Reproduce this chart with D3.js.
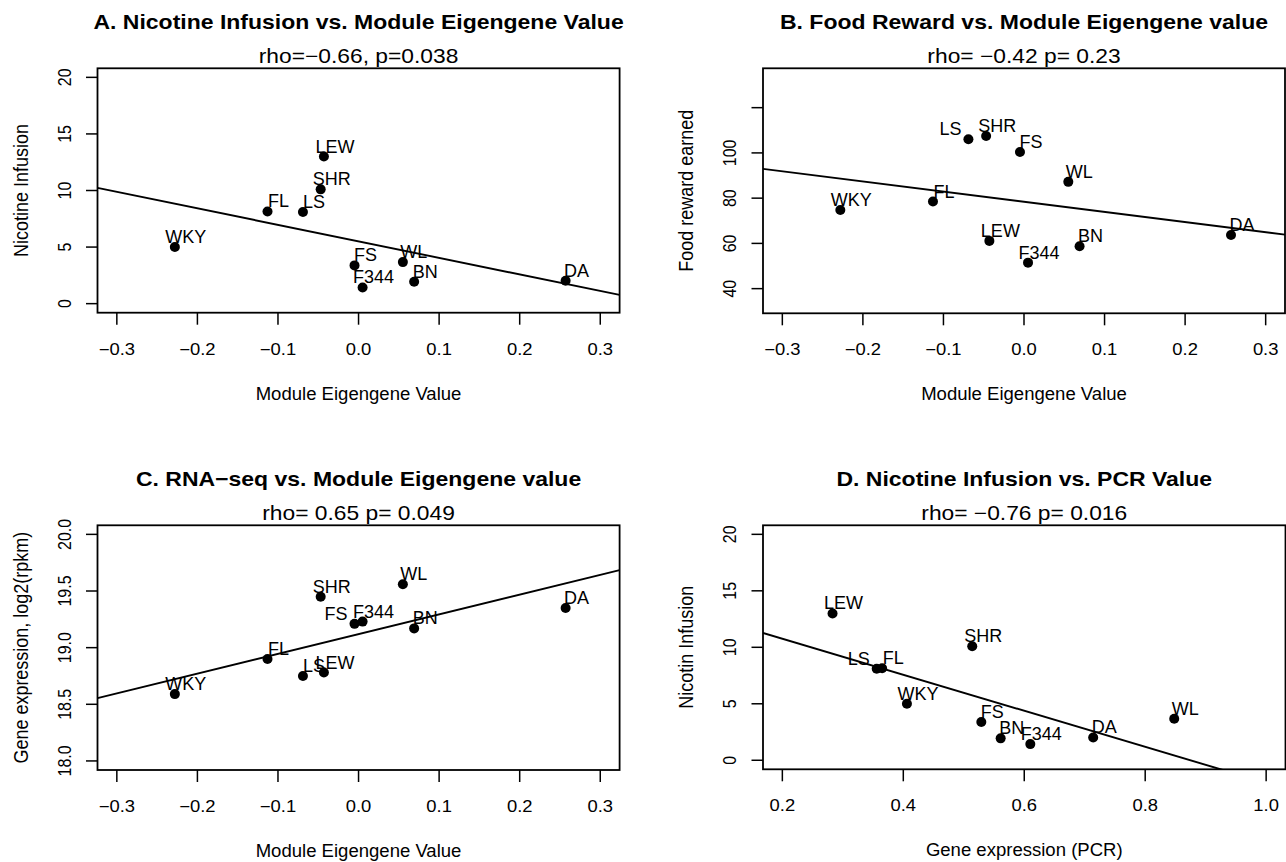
<!DOCTYPE html>
<html>
<head>
<meta charset="utf-8">
<script src="https://cdn.jsdelivr.net/npm/d3@7"></script>
<style>
body { margin: 0; background: #fff; }
svg { display: block; font-family: "Liberation Sans", Arial, sans-serif; }
</style>
</head>
<body>
<div id="chart"></div>
<script>
const WIDTH = 1286
const HEIGHT = 862

// data, one entry per rat strain
const strains    = ["LEW", "SHR", "FL", "LS", "WKY", "FS", "WL", "F344", "BN", "DA"]
const eigengene  = [-0.043, -0.047, -0.113, -0.069, -0.228, -0.005, 0.055, 0.005, 0.069, 0.257]
const nicotine   = [13.0, 10.1, 8.15, 8.1, 5.0, 3.38, 3.67, 1.43, 1.94, 2.02]
const foodReward = [61.1, 107.5, 78.5, 106.0, 74.8, 100.4, 87.2, 51.5, 58.7, 63.7]
const rnaSeq     = [18.78, 19.45, 18.90, 18.75, 18.59, 19.21, 19.56, 19.23, 19.17, 19.35]
const pcr        = [0.283, 0.514, 0.365, 0.356, 0.406, 0.529, 0.848, 0.610, 0.561, 0.714]

// axis ticks
const eigenTicks = [-0.3, -0.2, -0.1, 0.0, 0.1, 0.2, 0.3]
const eigenTickLabels = ["\u22120.3", "\u22120.2", "\u22120.1", "0.0", "0.1", "0.2", "0.3"]
const pcrTicks = [0.2, 0.4, 0.6, 0.8, 1.0]
const pcrTickLabels = ["0.2", "0.4", "0.6", "0.8", "1.0"]
const nicTicks = [0, 5, 10, 15, 20]
const nicTickLabels = ["0", "5", "10", "15", "20"]
const foodTicks = [40, 60, 80, 100, 120]
const foodTickLabels = ["40", "60", "80", "100", ""]
const rnaTicks = [18.0, 18.5, 19.0, 19.5, 20.0]
const rnaTickLabels = ["18.0", "18.5", "19.0", "19.5", "20.0"]

const panels = [
    {
        title: "A. Nicotine Infusion vs. Module Eigengene Value",
        sub: "rho=\u22120.66, p=0.038",
        x: eigengene, y: nicotine,
        xlab: "Module Eigengene Value", ylab: "Nicotine Infusion",
        xdom: [-0.324, 0.324], ydom: [-0.8, 20.8],
        xt: eigenTicks, xtl: eigenTickLabels, yt: nicTicks, ytl: nicTickLabels,
        leftLabels: [],
        box: [97.5, 68.3, 619.6, 312.7]
    },
    {
        title: "B. Food Reward vs. Module Eigengene value",
        sub: "rho= \u22120.42 p= 0.23",
        x: eigengene, y: foodReward,
        xlab: "Module Eigengene Value", ylab: "Food reward earned",
        xdom: [-0.324, 0.324], ydom: [29.1, 137.4],
        xt: eigenTicks, xtl: eigenTickLabels, yt: foodTicks, ytl: foodTickLabels,
        leftLabels: ["LS"],
        box: [763, 68.3, 1285, 313.3]
    },
    {
        title: "C. RNA\u2212seq vs. Module Eigengene value",
        sub: "rho= 0.65 p= 0.049",
        x: eigengene, y: rnaSeq,
        xlab: "Module Eigengene Value", ylab: "Gene expression, log2(rpkm)",
        xdom: [-0.324, 0.324], ydom: [17.92, 20.08],
        xt: eigenTicks, xtl: eigenTickLabels, yt: rnaTicks, ytl: rnaTickLabels,
        leftLabels: ["FS"],
        box: [97.5, 525.3, 619.6, 770]
    },
    {
        title: "D. Nicotine Infusion vs. PCR Value",
        sub: "rho= \u22120.76 p= 0.016",
        x: pcr, y: nicotine,
        xlab: "Gene expression (PCR)", ylab: "Nicotin Infusion",
        xdom: [0.168, 1.032], ydom: [-0.8, 20.8],
        xt: pcrTicks, xtl: pcrTickLabels, yt: nicTicks, ytl: nicTickLabels,
        leftLabels: ["LS"],
        box: [763, 525.3, 1285.5, 769.3]
    }
]

// text in the reference is drawn a little wider than it is tall
function put_text(g, x, y, txt, size, sx, opts = {}) {
    const rot = opts.rotate ? " rotate(-90)" : ""
    return g.append("text")
        .attr("transform", `translate(${x},${y}) scale(${sx},1)${rot}`)
        .attr("text-anchor", opts.anchor || "middle")
        .attr("font-size", size)
        .attr("font-weight", opts.bold ? "bold" : "normal")
        .attr("fill", "#000")
        .text(txt)
}

function fit_line(xs, ys) {
    const mx = d3.mean(xs), my = d3.mean(ys)
    let sxy = 0, sxx = 0
    xs.forEach((x, i) => {
        sxy += (x - mx) * (ys[i] - my)
        sxx += (x - mx) * (x - mx)
    })
    const b = sxy / sxx
    return { a: my - b * mx, b }
}

function draw_panel(svg, p, idx) {
    const [x0, y0, x1, y1] = p.box
    const xs = d3.scaleLinear().domain(p.xdom).range([x0, x1])
    const ys = d3.scaleLinear().domain(p.ydom).range([y1, y0])
    const g = svg.append("g")
    const cx = (x0 + x1) / 2, cy = (y0 + y1) / 2

    put_text(g, cx, y0 - 39, p.title, 20, 1.15, { bold: true })
    put_text(g, cx, y0 - 5, p.sub, 20, 1.14)

    // x axis
    g.selectAll(".xt").data(p.xt).enter().append("line")
        .attr("x1", d => xs(d)).attr("x2", d => xs(d))
        .attr("y1", y1).attr("y2", y1 + 12)
        .attr("stroke", "#000").attr("stroke-width", 1.5)
    p.xt.forEach((d, i) => put_text(g, xs(d), y1 + 42, p.xtl[i], 16, 1.15))
    put_text(g, cx, y1 + 87, p.xlab, 17.5, 1.06)

    // y axis
    g.selectAll(".yt").data(p.yt).enter().append("line")
        .attr("x1", x0 - 11.5).attr("x2", x0)
        .attr("y1", d => ys(d)).attr("y2", d => ys(d))
        .attr("stroke", "#000").attr("stroke-width", 1.5)
    p.yt.forEach((d, i) => put_text(g, x0 - 27, ys(d), p.ytl[i], 16, 1.12, { rotate: true }))
    put_text(g, x0 - 70, cy, p.ylab, 18, 1.08, { rotate: true })

    // regression line, clipped to the box
    g.append("clipPath").attr("id", "clip" + idx)
        .append("rect").attr("x", x0).attr("y", y0)
        .attr("width", x1 - x0).attr("height", y1 - y0)
    const fit = fit_line(p.x, p.y)
    g.append("line")
        .attr("clip-path", `url(#clip${idx})`)
        .attr("x1", xs(p.xdom[0])).attr("y1", ys(fit.a + fit.b * p.xdom[0]))
        .attr("x2", xs(p.xdom[1])).attr("y2", ys(fit.a + fit.b * p.xdom[1]))
        .attr("stroke", "#000").attr("stroke-width", 1.9)

    // points and strain names
    const pts = strains.map((s, i) => ({ s, x: p.x[i], y: p.y[i] }))
    g.selectAll(".pt").data(pts).enter().append("circle")
        .attr("cx", d => xs(d.x)).attr("cy", d => ys(d.y))
        .attr("r", 5).attr("fill", "#000")
    pts.forEach(d => {
        const left = p.leftLabels.includes(d.s)
        put_text(g, xs(d.x) + (left ? -7 : 11), ys(d.y) - 4, d.s, 18, 1,
            { anchor: left ? "end" : "middle" })
    })

    g.append("rect")
        .attr("x", x0).attr("y", y0)
        .attr("width", x1 - x0).attr("height", y1 - y0)
        .attr("fill", "none").attr("stroke", "#000").attr("stroke-width", 1.8)
}

const svg = d3.select("#chart").append("svg")
    .attr("width", WIDTH)
    .attr("height", HEIGHT)

panels.forEach((p, i) => draw_panel(svg, p, i))
</script>
</body>
</html>
